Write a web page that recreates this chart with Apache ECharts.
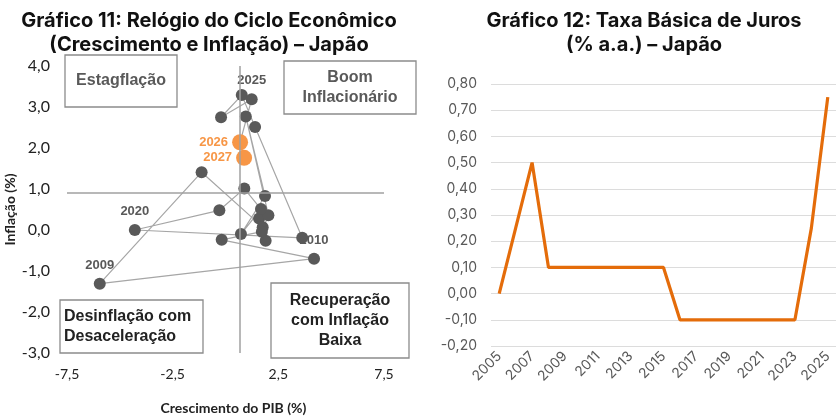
<!DOCTYPE html>
<html>
<head>
<meta charset="utf-8">
<script src="https://cdn.jsdelivr.net/npm/echarts@6/dist/echarts.min.js"></script>
<style>
  html, body { margin: 0; padding: 0; background: #fff; }
  #chart { width: 840px; height: 420px; }
</style>
</head>
<body>
<div id="chart"></div>
<script>
// grafico 11: relogio do ciclo (PIB x inflacao), 2005-2027
const clockYears = [2005, 2006, 2007, 2008, 2009, 2010, 2011, 2012, 2013, 2014, 2015, 2016,
  2017, 2018, 2019, 2020, 2021, 2022, 2023, 2024, 2025, 2026, 2027];
const gdpGrowth = [1.9, 1.59, 1.76, -1.13, -5.95, 4.19, -0.18, 1.72, 2.03, 0.96, 1.87, 0.73,
  1.68, 0.89, -0.29, -4.29, 3.63, 1.4, 0.77, -0.21, 1.24, 0.69, 0.88];
const inflation = [-0.26, 0.28, 0.07, 1.41, -1.31, -0.7, -0.24, -0.04, 0.36, 2.77, 0.83, -0.1,
  0.51, 1.01, 0.48, 0.0, -0.19, 2.51, 3.29, 2.75, 3.19, 2.14, 1.76];
const forecastYears = [2026, 2027];
const labeledYears = [2009, 2010, 2020, 2025, 2026, 2027];
const clockXTicks = [-7.5, -2.5, 2.5, 7.5];
const clockYTicks = [-3, -2, -1, 0, 1, 2, 3, 4];
// linhas de referencia dos quadrantes
const refGrowth = 0.69;
const refInflation = 0.9;

// grafico 12: taxa basica de juros
const rateYears = ['2005', '2006', '2007', '2008', '2009', '2010', '2011', '2012', '2013', '2014', '2015',
  '2016', '2017', '2018', '2019', '2020', '2021', '2022', '2023', '2024', '2025'];
const rateValues = [0, 0.25, 0.5, 0.1, 0.1, 0.1, 0.1, 0.1, 0.1, 0.1, 0.1,
  -0.1, -0.1, -0.1, -0.1, -0.1, -0.1, -0.1, -0.1, 0.25, 0.75];
const rateTicks = [-0.2, 0.8];

const grey = '#595959';
const orange = '#F79646';
const comma = (v, d) => v.toFixed(d).replace('.', ',');

const path = clockYears.map((y, i) => [gdpGrowth[i], inflation[i]]);
const pointData = (keep) => clockYears
  .map((y, i) => ({ value: [gdpGrowth[i], inflation[i]], year: y }))
  .filter(p => keep(p.year))
  .map(p => {
    const show = labeledYears.includes(p.year);
    const fc = forecastYears.includes(p.year);
    return {
      value: p.value,
      label: {
        show: show,
        formatter: String(p.year),
        position: fc ? 'left' : 'top',
        distance: fc ? 4 : 6
      }
    };
  });

const boxText = { fontFamily: 'Liberation Sans, Arial', fontWeight: 'bold', fontSize: 16 };
const box = (x, y, w, h, lines, color, align) => ({
  type: 'group',
  children: [
    { type: 'rect', shape: { x: x, y: y, width: w, height: h },
      style: { fill: '#fff', stroke: '#8c8c8c', lineWidth: 1.3 } },
    { type: 'text', x: align === 'left' ? x + 4 : x + w / 2, y: y + h / 2,
      style: Object.assign({ text: lines.join('\n'), fill: color, align: align,
        verticalAlign: 'middle', lineHeight: 20 }, boxText) }
  ]
});

const titleStyle = { fontFamily: 'Inter', fontWeight: 'bold', fontSize: 20, lineHeight: 24, color: '#111' };

const chart = echarts.init(document.getElementById('chart'));
chart.setOption({
  animation: false,
  title: [
    { text: 'Gráfico 11: Relógio do Ciclo Econômico\n(Crescimento e Inflação) – Japão',
      left: 204, top: 4, textAlign: 'center', textStyle: titleStyle },
    { text: 'Gráfico 12: Taxa Básica de Juros\n(% a.a.) – Japão',
      left: 639, top: 4, textAlign: 'center', textStyle: titleStyle }
  ],
  grid: [
    { left: 67, top: 66, width: 317, height: 287 },
    { left: 491, top: 84, width: 345, height: 262 }
  ],
  xAxis: [
    { type: 'value', gridIndex: 0, min: clockXTicks[0], max: clockXTicks[clockXTicks.length - 1], interval: 5,
      axisLine: { show: false }, axisTick: { show: false }, splitLine: { show: false },
      axisLabel: { color: '#222', fontFamily: 'Lato', fontSize: 14, margin: 14, formatter: v => comma(v, 1) },
      name: 'Crescimento do PIB (%)', nameLocation: 'middle', nameGap: 48,
      nameTextStyle: { fontFamily: 'Lato', fontWeight: 'bold', fontSize: 14, color: '#222', padding: [0, 0, 0, 16] } },
    { type: 'category', gridIndex: 1, data: rateYears, boundaryGap: true,
      axisLine: { show: false }, axisTick: { show: false },
      axisLabel: { interval: 1, rotate: 45, color: grey, fontFamily: 'Inter', fontSize: 14, margin: 8 } }
  ],
  yAxis: [
    { type: 'value', gridIndex: 0, min: clockYTicks[0], max: clockYTicks[clockYTicks.length - 1], interval: 1,
      axisLine: { show: false }, axisTick: { show: false }, splitLine: { show: false },
      axisLabel: { color: '#222', fontFamily: 'Lato', fontSize: 16, margin: 17, formatter: v => comma(v, 1) },
      name: 'Inflação (%)', nameLocation: 'middle', nameGap: 46, nameRotate: 90,
      nameTextStyle: { fontFamily: 'Lato', fontWeight: 'bold', fontSize: 14, color: '#222' } },
    { type: 'value', gridIndex: 1, min: rateTicks[0], max: rateTicks[1], interval: 0.1,
      axisLine: { show: false }, axisTick: { show: false },
      splitLine: { lineStyle: { color: '#dcdcdc', width: 1.2 } },
      axisLabel: { color: grey, fontFamily: 'Inter', fontSize: 14, margin: 14, formatter: v => comma(v, 2) } }
  ],
  series: [
    { type: 'line', xAxisIndex: 0, yAxisIndex: 0, data: path, symbol: 'none', silent: true,
      lineStyle: { color: '#a6a6a6', width: 1.2 }, z: 2,
      markLine: { silent: true, symbol: 'none', label: { show: false },
        lineStyle: { color: '#a0a0a0', type: 'solid', width: 1.5 },
        data: [{ xAxis: refGrowth }, { yAxis: refInflation }] } },
    { type: 'scatter', xAxisIndex: 0, yAxisIndex: 0, symbolSize: 12, z: 3,
      itemStyle: { color: grey, opacity: 1 },
      label: { color: grey, fontFamily: 'Liberation Sans', fontWeight: 'bold', fontSize: 13 },
      data: pointData(y => !forecastYears.includes(y)) },
    { type: 'scatter', xAxisIndex: 0, yAxisIndex: 0, symbolSize: 16, z: 4,
      itemStyle: { color: orange, opacity: 1 },
      label: { color: orange, fontFamily: 'Liberation Sans', fontWeight: 'bold', fontSize: 13 },
      data: pointData(y => forecastYears.includes(y)) },
    { type: 'line', xAxisIndex: 1, yAxisIndex: 1, data: rateValues, symbol: 'none',
      lineStyle: { color: '#E46C0A', width: 3.2 } }
  ],
  graphic: [
    box(65, 55, 112, 52, ['Estagflação'], grey, 'center'),
    box(284, 61, 132, 53, ['Boom', 'Inflacionário'], grey, 'center'),
    box(60, 300, 143, 53, ['Desinflação com', 'Desaceleração'], '#222', 'left'),
    box(271, 283, 138, 75, ['Recuperação', 'com Inflação', 'Baixa'], '#222', 'center')
  ]
});
</script>
</body>
</html>
